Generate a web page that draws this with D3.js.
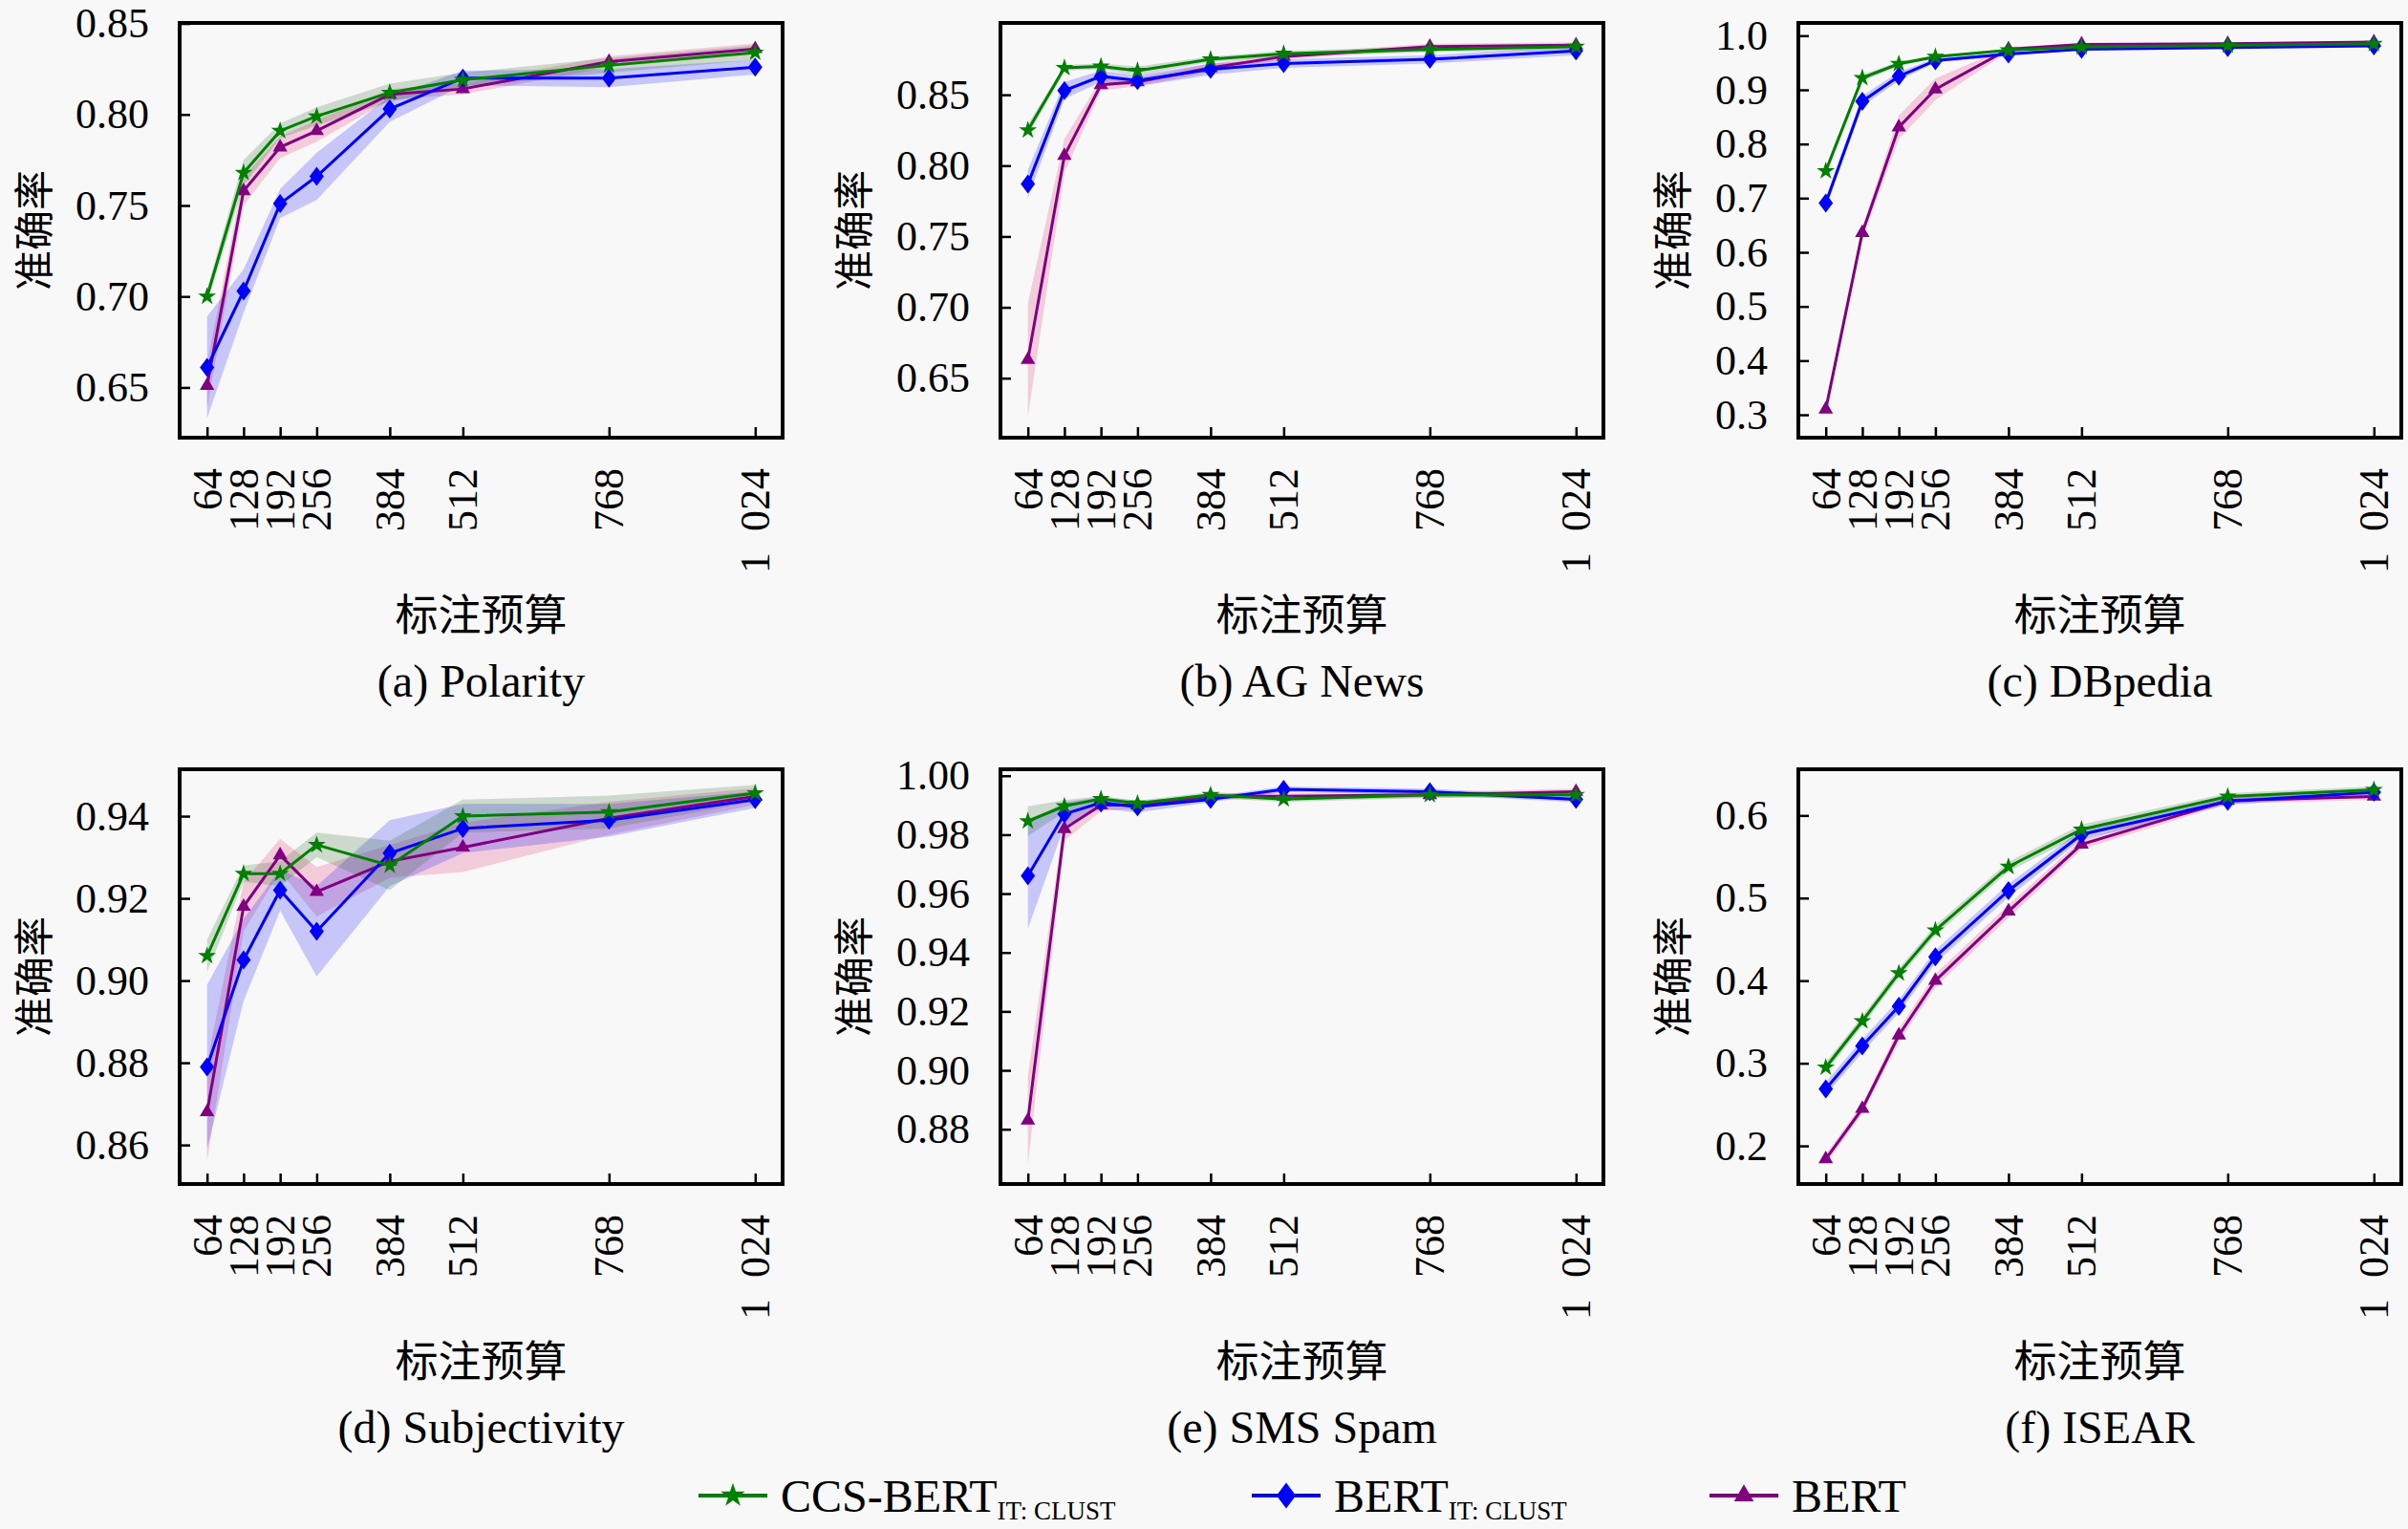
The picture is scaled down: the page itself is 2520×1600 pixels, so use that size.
<!DOCTYPE html>
<html>
<head>
<meta charset="utf-8">
<script src="https://cdn.jsdelivr.net/npm/d3@7"></script>
<style>
  body { margin: 0; background: #f8f8f8; }
  text { fill: #000; }
</style>
</head>
<body>
<svg width="2520" height="1600"></svg>
<script>
// x values: labelling budget
const budgets = [64, 128, 192, 256, 384, 512, 768, 1024];
const budgetLabels = ["64", "128", "192", "256", "384", "512", "768", "1\u2002024"];

// (a) Polarity
const polarityCcs    = [0.700, 0.768, 0.791, 0.799, 0.812, 0.819, 0.827, 0.834];
const polarityCcsSd  = [0.004, 0.007, 0.004, 0.005, 0.005, 0.004, 0.004, 0.004];
const polarityIt     = [0.661, 0.703, 0.751, 0.766, 0.803, 0.820, 0.820, 0.826];
const polarityItSd   = [0.028, 0.012, 0.008, 0.013, 0.007, 0.004, 0.005, 0.004];
const polarityBert   = [0.651, 0.758, 0.782, 0.791, 0.811, 0.814, 0.829, 0.836];
const polarityBertSd = [0.012, 0.008, 0.006, 0.006, 0.003, 0.003, 0.003, 0.003];
const polarityTicks  = [0.65, 0.70, 0.75, 0.80, 0.85];

// (b) AG News
const agCcs    = [0.825, 0.869, 0.870, 0.867, 0.875, 0.879, 0.882, 0.884];
const agCcsSd  = [0.004, 0.002, 0.002, 0.003, 0.002, 0.002, 0.002, 0.002];
const agIt     = [0.787, 0.853, 0.863, 0.860, 0.868, 0.872, 0.875, 0.881];
const agItSd   = [0.010, 0.006, 0.004, 0.004, 0.004, 0.003, 0.003, 0.003];
const agBert   = [0.663, 0.807, 0.857, 0.859, 0.869, 0.877, 0.884, 0.885];
const agBertSd = [0.040, 0.012, 0.004, 0.003, 0.003, 0.002, 0.002, 0.002];
const agTicks  = [0.65, 0.70, 0.75, 0.80, 0.85];

// (c) DBpedia
const dbCcs    = [0.750, 0.922, 0.948, 0.961, 0.973, 0.979, 0.982, 0.985];
const dbCcsSd  = [0.008, 0.006, 0.004, 0.003, 0.002, 0.002, 0.002, 0.002];
const dbIt     = [0.691, 0.879, 0.925, 0.954, 0.966, 0.975, 0.978, 0.981];
const dbItSd   = [0.010, 0.010, 0.008, 0.004, 0.003, 0.002, 0.002, 0.002];
const dbBert   = [0.310, 0.636, 0.831, 0.901, 0.975, 0.984, 0.985, 0.988];
const dbBertSd = [0.008, 0.010, 0.022, 0.020, 0.004, 0.002, 0.002, 0.002];
const dbTicks  = [0.3, 0.4, 0.5, 0.6, 0.7, 0.8, 0.9, 1.0];

// (d) Subjectivity
const subjCcs    = [0.906, 0.926, 0.926, 0.933, 0.928, 0.940, 0.941, 0.9456];
const subjCcsSd  = [0.004, 0.002, 0.003, 0.003, 0.006, 0.004, 0.004, 0.002];
const subjIt     = [0.879, 0.905, 0.922, 0.912, 0.931, 0.937, 0.939, 0.944];
const subjItSd   = [0.020, 0.010, 0.005, 0.011, 0.008, 0.006, 0.004, 0.002];
const subjBert   = [0.868, 0.918, 0.9305, 0.9216, 0.929, 0.9324, 0.9395, 0.9448];
const subjBertSd = [0.012, 0.006, 0.004, 0.006, 0.004, 0.006, 0.004, 0.002];
const subjTicks  = [0.86, 0.88, 0.90, 0.92, 0.94];

// (e) SMS Spam
const smsCcs    = [0.9846, 0.9897, 0.9921, 0.9906, 0.9935, 0.9921, 0.9935, 0.9935];
const smsCcsSd  = [0.005, 0.002, 0.001, 0.001, 0.001, 0.001, 0.001, 0.001];
const smsIt     = [0.966, 0.987, 0.9908, 0.9895, 0.992, 0.9954, 0.9946, 0.992];
const smsItSd   = [0.018, 0.004, 0.002, 0.002, 0.001, 0.001, 0.001, 0.001];
const smsBert   = [0.883, 0.982, 0.990, 0.990, 0.993, 0.993, 0.9935, 0.9946];
const smsBertSd = [0.015, 0.004, 0.002, 0.001, 0.001, 0.001, 0.001, 0.001];
const smsTicks  = [0.88, 0.90, 0.92, 0.94, 0.96, 0.98, 1.00];

// (f) ISEAR
const isearCcs    = [0.295, 0.351, 0.409, 0.461, 0.538, 0.583, 0.623, 0.631];
const isearCcsSd  = [0.006, 0.006, 0.006, 0.006, 0.006, 0.006, 0.004, 0.004];
const isearIt     = [0.269, 0.321, 0.369, 0.429, 0.509, 0.577, 0.617, 0.628];
const isearItSd   = [0.008, 0.008, 0.008, 0.008, 0.008, 0.006, 0.004, 0.004];
const isearBert   = [0.184, 0.245, 0.334, 0.400, 0.484, 0.565, 0.618, 0.623];
const isearBertSd = [0.006, 0.006, 0.008, 0.008, 0.008, 0.006, 0.004, 0.004];
const isearTicks  = [0.2, 0.3, 0.4, 0.5, 0.6];

const panels = [
  {title: "(a) Polarity", dom: [0.6224, 0.8503], ticks: polarityTicks, fmt: ".2f",
   ccs: [polarityCcs, polarityCcsSd], it: [polarityIt, polarityItSd], bert: [polarityBert, polarityBertSd]},
  {title: "(b) AG News", dom: [0.608, 0.9007], ticks: agTicks, fmt: ".2f",
   ccs: [agCcs, agCcsSd], it: [agIt, agItSd], bert: [agBert, agBertSd]},
  {title: "(c) DBpedia", dom: [0.2577, 1.0235], ticks: dbTicks, fmt: ".1f",
   ccs: [dbCcs, dbCcsSd], it: [dbIt, dbItSd], bert: [dbBert, dbBertSd]},
  {title: "(d) Subjectivity", dom: [0.8505, 0.9514], ticks: subjTicks, fmt: ".2f",
   ccs: [subjCcs, subjCcsSd], it: [subjIt, subjItSd], bert: [subjBert, subjBertSd]},
  {title: "(e) SMS Spam", dom: [0.8614, 1.0022], ticks: smsTicks, fmt: ".2f",
   ccs: [smsCcs, smsCcsSd], it: [smsIt, smsItSd], bert: [smsBert, smsBertSd]},
  {title: "(f) ISEAR", dom: [0.1538, 0.6559], ticks: isearTicks, fmt: ".1f",
   ccs: [isearCcs, isearCcsSd], it: [isearIt, isearItSd], bert: [isearBert, isearBertSd]}
];

const serif = "'Liberation Serif', 'DejaVu Serif', serif";
const cjk = "'Noto Sans CJK SC', sans-serif";

// drawing order: BERT first, CCS-BERT last (on top)
const styles = {
  bert: {color: "#800080", band: "#e0206a", shape: "tri"},
  it:   {color: "#0000ff", band: "#0000ff", shape: "diamond"},
  ccs:  {color: "#008000", band: "#206020", shape: "star"}
};

function markerPath(shape, big) {
  const k = big ? 1.35 : 1;
  if (shape === "star") return d3.symbol(d3.symbolStar, 110 * k * k)();
  if (shape === "tri") return d3.symbol(d3.symbolTriangle, 100 * k * k)();
  return `M0,${-10 * k}L${7.5 * k},0L0,${10 * k}L${-7.5 * k},0Z`;
}

const svg = d3.select("svg");
const panelW = 631, panelH = 434;
const lefts = [188, 1047, 1882];
const tops = [24, 805];

panels.forEach(function(p, i) {
  const left = lefts[i % 3], top = tops[Math.floor(i / 3)];
  const g = svg.append("g").attr("transform", `translate(${left},${top})`);

  const x = d3.scaleLinear().domain([16, 1072]).range([0, panelW]);
  const y = d3.scaleLinear().domain(p.dom).range([panelH, 0]);

  const clipId = "clip" + i;
  g.append("clipPath").attr("id", clipId)
    .append("rect").attr("width", panelW).attr("height", panelH);
  const plot = g.append("g").attr("clip-path", `url(#${clipId})`);

  const keys = ["bert", "it", "ccs"];
  keys.forEach(function(k) {
    const pts = budgets.map((b, j) => ({b: b, m: p[k][0][j], s: p[k][1][j]}));
    plot.append("path").datum(pts)
      .attr("fill", styles[k].band).attr("fill-opacity", 0.2)
      .attr("d", d3.area().x(d => x(d.b)).y0(d => y(d.m - d.s)).y1(d => y(d.m + d.s)));
  });
  keys.forEach(function(k) {
    const pts = budgets.map((b, j) => ({b: b, m: p[k][0][j]}));
    plot.append("path").datum(pts)
      .attr("fill", "none").attr("stroke", styles[k].color).attr("stroke-width", 3)
      .attr("d", d3.line().x(d => x(d.b)).y(d => y(d.m)));
    plot.selectAll(null).data(pts).enter().append("path")
      .attr("transform", d => `translate(${x(d.b)},${y(d.m)})`)
      .attr("d", markerPath(styles[k].shape))
      .attr("fill", styles[k].color);
  });

  // axes
  const yAxis = g.append("g").attr("class", "yaxis")
    .call(d3.axisLeft(y).tickValues(p.ticks).tickSize(-11).tickPadding(32).tickFormat(d3.format(p.fmt)));
  const xAxis = g.append("g").attr("transform", `translate(0,${panelH})`)
    .call(d3.axisBottom(x).tickValues(budgets).tickSize(-11).tickFormat((d, j) => budgetLabels[j]));
  [yAxis, xAxis].forEach(a => {
    a.select(".domain").remove();
    a.selectAll("line").attr("stroke", "#000").attr("stroke-width", 2.5);
    a.selectAll("text").attr("font-family", serif).attr("font-size", 44).attr("fill", "#000");
  });
  xAxis.selectAll("text")
    .attr("y", 0).attr("dy", null).attr("x", -32)
    .attr("transform", "rotate(-90)")
    .attr("text-anchor", "end").attr("dominant-baseline", "central");

  g.append("rect").attr("width", panelW).attr("height", panelH)
    .attr("fill", "none").attr("stroke", "#000").attr("stroke-width", 4);

  const yb = yAxis.node().getBBox();
  const labelX = Math.max(yb.x - 48, 32 - left);
  g.append("text")
    .attr("transform", `translate(${labelX},${panelH / 2}) rotate(-90)`)
    .attr("text-anchor", "middle").attr("dominant-baseline", "central")
    .attr("font-family", cjk).attr("font-size", 42)
    .text("准确率");

  g.append("text")
    .attr("x", panelW / 2).attr("y", panelH + 182)
    .attr("text-anchor", "middle").attr("dominant-baseline", "central")
    .attr("font-family", cjk).attr("font-size", 45)
    .text("标注预算");

  g.append("text")
    .attr("x", panelW / 2).attr("y", panelH + 254)
    .attr("text-anchor", "middle").attr("dominant-baseline", "central")
    .attr("font-family", serif).attr("font-size", 48)
    .text(p.title);
});

// legend
const legendItems = [
  {key: "ccs", name: "CCS-BERT", sub: "IT: CLUST", x: 731},
  {key: "it", name: "BERT", sub: "IT: CLUST", x: 1310},
  {key: "bert", name: "BERT", sub: "", x: 1789}
];
const legend = svg.append("g").attr("transform", "translate(0,1565)");
legendItems.forEach(function(it) {
  const st = styles[it.key];
  legend.append("line").attr("x1", it.x).attr("x2", it.x + 72)
    .attr("stroke", st.color).attr("stroke-width", 4);
  legend.append("path").attr("transform", `translate(${it.x + 36},0)`)
    .attr("d", markerPath(st.shape, true))
    .attr("fill", st.color);
  const t = legend.append("text").attr("x", it.x + 86).attr("y", 0)
    .attr("dominant-baseline", "central")
    .attr("font-family", serif).attr("font-size", 48);
  t.append("tspan").text(it.name);
  if (it.sub) t.append("tspan").attr("font-size", 27).attr("dy", 16).text(it.sub);
});
</script>
</body>
</html>
